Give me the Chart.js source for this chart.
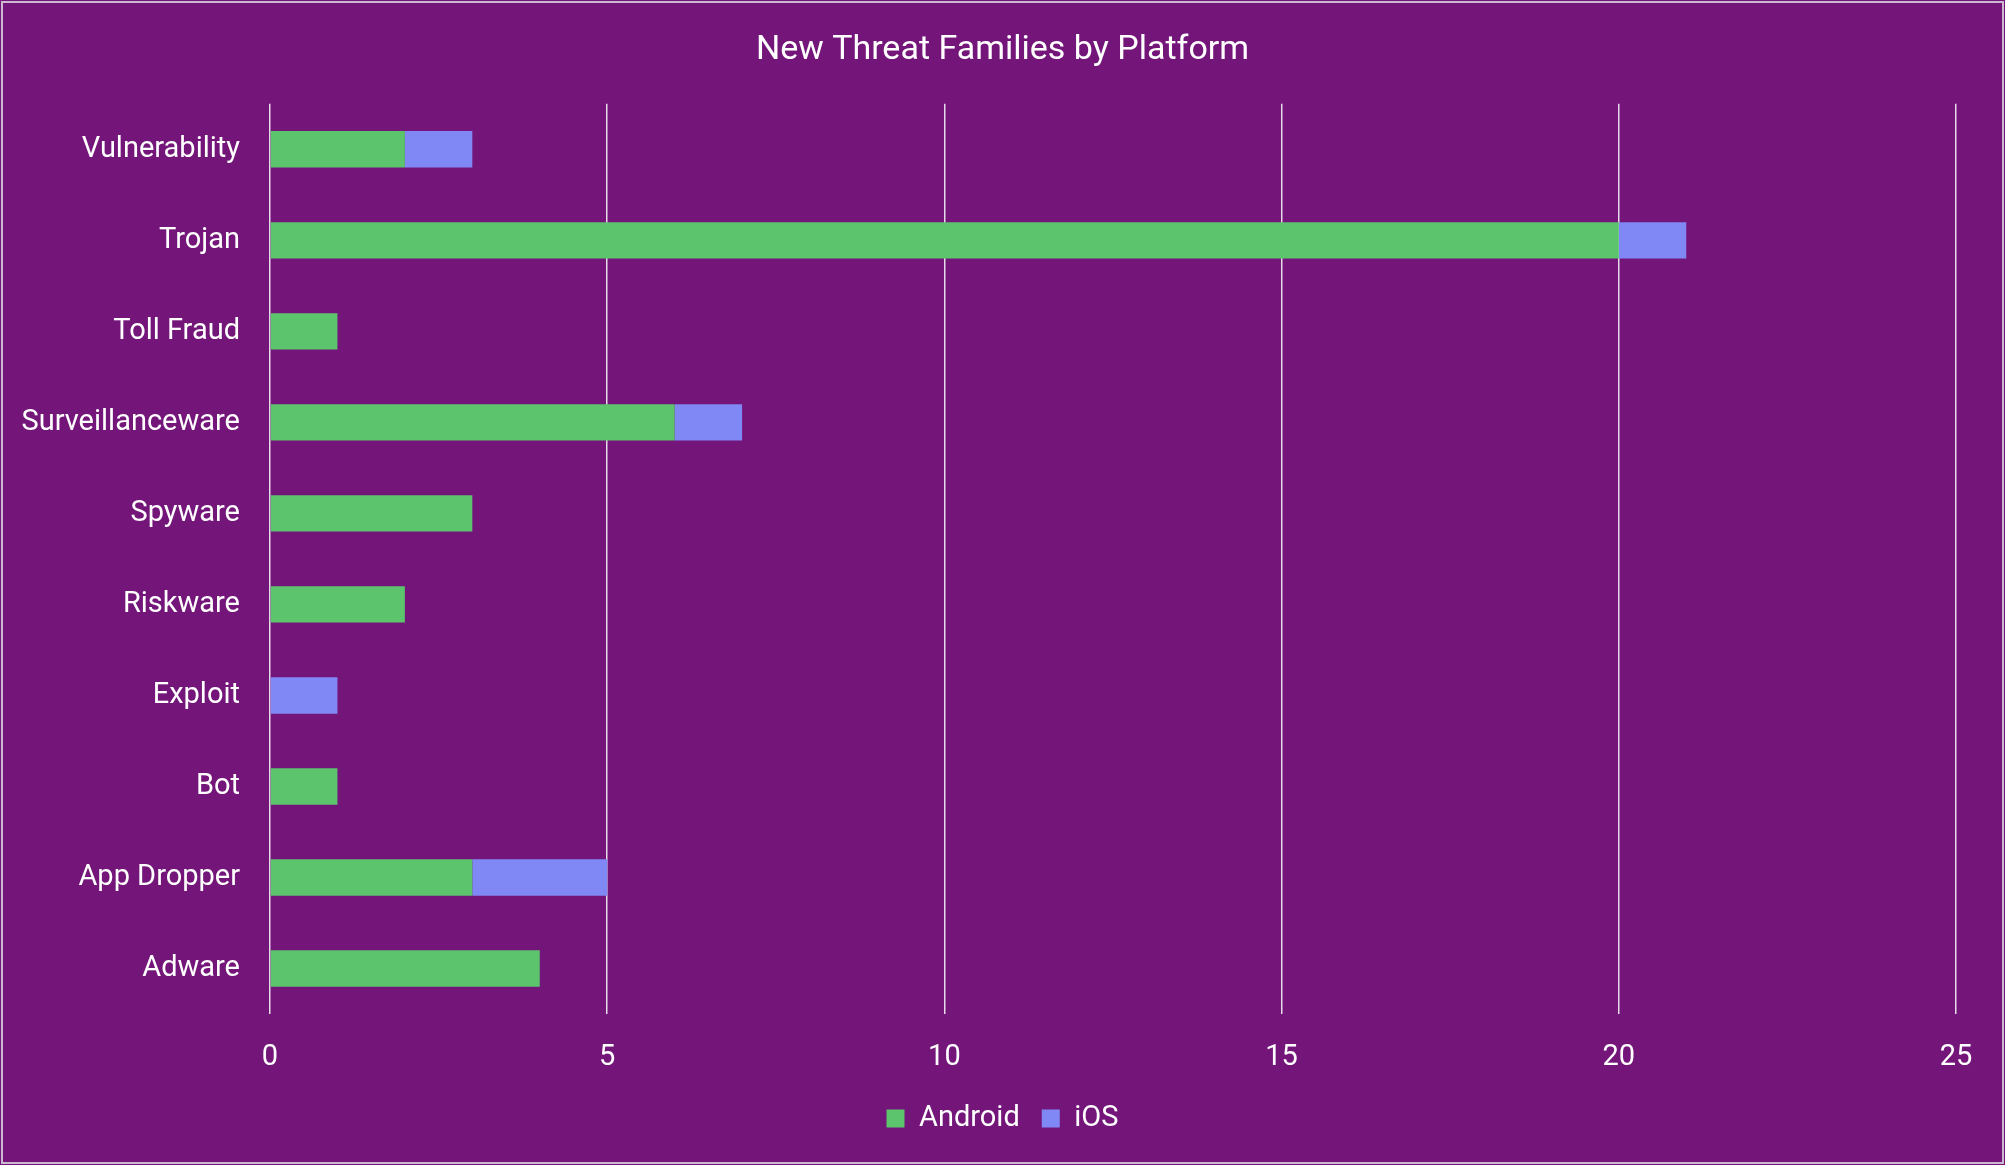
<!DOCTYPE html>
<html>
<head>
<meta charset="utf-8">
<script src="https://cdn.jsdelivr.net/npm/chart.js@4/dist/chart.umd.min.js"></script>
<style>
  html, body { margin: 0; padding: 0; background: #74157a; }
  #wrap { width: 2005px; height: 1165px; position: relative; }
</style>
</head>
<body>
<div id="wrap"><canvas id="threatChart"></canvas></div>
<script>
const categories = ['Vulnerability', 'Trojan', 'Toll Fraud', 'Surveillanceware', 'Spyware',
  'Riskware', 'Exploit', 'Bot', 'App Dropper', 'Adware'];
const androidCounts = [2, 20, 1, 6, 3, 2, 0, 1, 3, 4];
const iosCounts = [1, 1, 0, 1, 0, 0, 1, 0, 2, 0];
const xTicks = [0, 5, 10, 15, 20, 25];

const FONT = 'Roboto, "Liberation Sans", sans-serif';
const BG = '#74157a';

const frame = {
  id: 'frame',
  beforeDraw(chart) {
    const c = chart.ctx;
    c.save();
    c.fillStyle = BG;
    c.fillRect(0, 0, chart.width, chart.height);
    c.restore();
  },
  afterDraw(chart) {
    const c = chart.ctx;
    c.save();
    c.strokeStyle = '#cdb8d2';
    c.lineWidth = 2;
    c.strokeRect(2, 2, chart.width - 4, chart.height - 4);
    c.restore();
  }
};

const ctx = document.getElementById('threatChart').getContext('2d');
new Chart(ctx, {
  type: 'bar',
  data: {
    labels: categories,
    datasets: [
      { label: 'Android', data: androidCounts, backgroundColor: '#5bc46c', barPercentage: 0.4, categoryPercentage: 1 },
      { label: 'iOS', data: iosCounts, backgroundColor: '#8088f5', barPercentage: 0.4, categoryPercentage: 1 }
    ]
  },
  options: {
    indexAxis: 'y',
    responsive: true,
    maintainAspectRatio: false,
    animation: false,
    layout: { padding: { top: 0, left: 0, right: 0, bottom: 22 } },
    plugins: {
      title: {
        display: true,
        text: 'New Threat Families by Platform',
        color: '#ffffff',
        font: { family: FONT, size: 34, weight: 'normal' },
        padding: { top: 30, bottom: 33 }
      },
      legend: {
        position: 'bottom',
        labels: {
          color: '#ffffff',
          font: { family: FONT, size: 29 },
          boxWidth: 18,
          boxHeight: 18,
          padding: 22
        }
      },
      tooltip: { enabled: false }
    },
    scales: {
      x: {
        stacked: true,
        min: 0,
        max: 25,
        afterBuildTicks(axis) { axis.ticks = xTicks.map(v => ({ value: v })); },
        afterFit(axis) { axis.height = 68; },
        grid: { color: '#e6dce8', lineWidth: 1.5, drawTicks: false },
        border: { display: false },
        ticks: { color: '#ffffff', font: { family: FONT, size: 29 }, padding: 26 }
      },
      y: {
        stacked: true,
        afterFit(axis) { axis.width = 270; },
        grid: { display: false, drawTicks: false },
        border: { display: false },
        ticks: { color: '#ffffff', font: { family: FONT, size: 29 }, padding: 30 }
      },
      // empty right-hand axis, only keeps the right margin
      spacer: {
        type: 'linear',
        position: 'right',
        afterFit(axis) { axis.width = 49; },
        grid: { display: false, drawTicks: false },
        border: { display: false },
        ticks: { display: false }
      }
    }
  },
  plugins: [frame]
});
</script>
</body>
</html>
